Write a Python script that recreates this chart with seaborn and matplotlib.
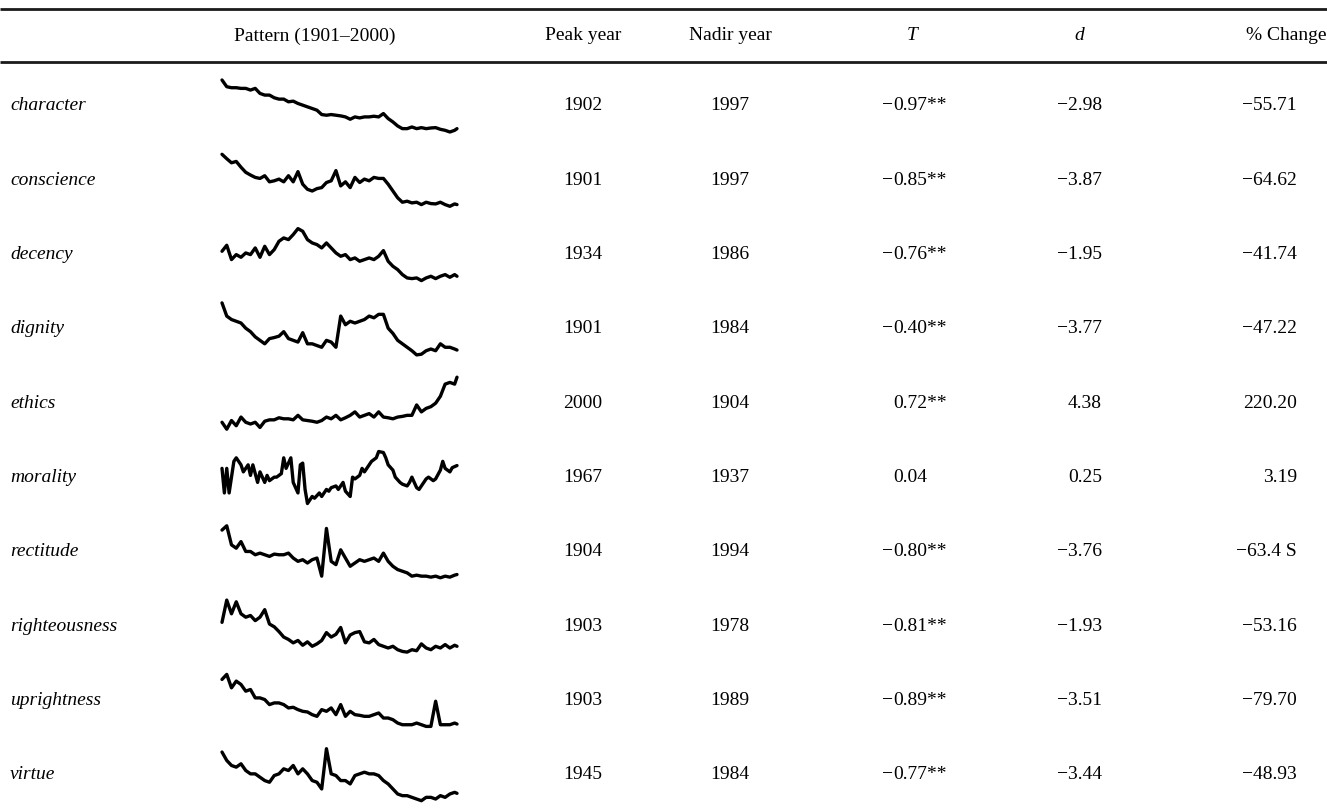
import matplotlib
matplotlib.use("Agg")
import matplotlib.pyplot as plt
import seaborn as sns
import pandas as pd

# ---------------- data ----------------
WORDS = ["character", "conscience", "decency", "dignity", "ethics",
         "morality", "rectitude", "righteousness", "uprightness", "virtue"]
PEAK_YEAR = [1902, 1901, 1934, 1901, 2000, 1967, 1904, 1903, 1903, 1945]
NADIR_YEAR = [1997, 1997, 1986, 1984, 1904, 1937, 1994, 1978, 1989, 1984]
T_VALUES = ["−0.97**", "−0.85**", "−0.76**", "−0.40**", "0.72**",
            "0.04", "−0.80**", "−0.81**", "−0.89**", "−0.77**"]
D_VALUES = ["−2.98", "−3.87", "−1.95", "−3.77", "4.38",
            "0.25", "−3.76", "−1.93", "−3.51", "−3.44"]
PCT_CHANGE = ["−55.71", "−64.62", "−41.74", "−47.22", "220.20",
              "3.19", "−63.4 S", "−53.16", "−79.70", "−48.93"]
HEADERS = ["Pattern (1901–2000)", "Peak year", "Nadir year", "T", "d", "% Change"]

# sparkline sample years (every second year, plus 2000)
YEARS = list(range(1901, 2000, 2)) + [2000]

# relative frequency index read from the sparklines
character = [155, 135, 132, 132, 130, 130, 125, 130, 115, 110,
             110, 102, 98, 98, 90, 92, 85, 80, 75, 70,
             65, 52, 50, 52, 50, 48, 45, 38, 45, 42,
             45, 45, 47, 45, 55, 40, 30, 18, 10, 10,
             15, 10, 13, 10, 12, 13, 8, 5, 0, 5,
             10]
conscience = [153, 140, 128, 132, 115, 100, 92, 85, 82, 90,
              72, 75, 80, 72, 90, 72, 102, 65, 50, 45,
              52, 55, 70, 75, 105, 60, 72, 55, 85, 70,
              80, 75, 85, 82, 82, 65, 45, 25, 12, 15,
              10, 12, 5, 12, 8, 7, 12, 5, 0, 7,
              5]
decency = [90, 108, 65, 80, 72, 85, 80, 100, 72, 105,
           80, 95, 120, 130, 125, 140, 158, 150, 125, 115,
           110, 100, 115, 100, 85, 75, 80, 65, 70, 60,
           65, 70, 65, 75, 92, 60, 45, 35, 20, 10,
           8, 10, 2, 10, 15, 8, 15, 20, 12, 20,
           15]
dignity = [153, 115, 105, 100, 95, 80, 70, 55, 45, 35,
           50, 53, 57, 70, 50, 45, 40, 67, 35, 35,
           30, 25, 45, 40, 25, 115, 90, 100, 95, 100,
           105, 115, 110, 120, 120, 80, 65, 45, 35, 25,
           15, 3, 5, 15, 20, 15, 35, 25, 25, 20,
           17]
ethics = [25, 5, 30, 15, 40, 25, 20, 25, 10, 28,
          32, 32, 38, 35, 35, 32, 45, 32, 30, 28,
          25, 30, 40, 35, 45, 32, 38, 45, 55, 40,
          45, 50, 40, 55, 40, 38, 35, 40, 42, 45,
          45, 75, 55, 65, 70, 80, 100, 135, 140, 135,
          155]
# morality was read at a finer step (its own years)
MORALITY_YEARS = [1901, 1902, 1903, 1904, 1906, 1907, 1909, 1910, 1912, 1913,
                  1914, 1916, 1917, 1919, 1920, 1921, 1923, 1924, 1926, 1927,
                  1928, 1930, 1931, 1933, 1934, 1935, 1936, 1937, 1939, 1940,
                  1942, 1943, 1945, 1946, 1947, 1949, 1950, 1952, 1953, 1955,
                  1956, 1957, 1959, 1960, 1961, 1963, 1964, 1966, 1967, 1969,
                  1970, 1971, 1973, 1974, 1976, 1977, 1979, 1980, 1981, 1983,
                  1984, 1986, 1987, 1988, 1990, 1991, 1993, 1994, 1995, 1997,
                  1998, 2000]
morality = [105, 35, 105, 35, 125, 135, 115, 95, 115, 85,
            115, 65, 95, 65, 85, 70, 80, 80, 90, 135,
            105, 135, 65, 35, 115, 120, 45, 5, 25, 20,
            35, 25, 45, 40, 50, 55, 45, 65, 40, 25,
            80, 75, 85, 105, 95, 115, 125, 135, 153, 150,
            135, 115, 100, 80, 65, 60, 55, 65, 80, 50,
            45, 65, 75, 80, 70, 75, 100, 125, 105, 95,
            107, 113]
rectitude = [145, 158, 100, 90, 110, 80, 80, 70, 75, 70,
             65, 72, 70, 70, 75, 60, 50, 55, 45, 55,
             60, 5, 150, 50, 40, 85, 60, 35, 45, 55,
             50, 55, 60, 50, 75, 50, 35, 25, 20, 15,
             5, 8, 5, 5, 2, 5, 0, 5, 2, 8,
             10]
righteousness = [90, 155, 115, 150, 115, 105, 110, 95, 105, 127,
                 85, 77, 63, 47, 40, 30, 37, 23, 33, 20,
                 27, 37, 60, 47, 55, 75, 30, 53, 60, 63,
                 33, 30, 40, 25, 20, 15, 20, 10, 5, 3,
                 10, 7, 27, 15, 10, 20, 15, 25, 15, 23,
                 20]
uprightness = [140, 155, 115, 135, 125, 105, 110, 85, 85, 80,
               65, 70, 70, 65, 55, 57, 50, 45, 43, 35,
               30, 50, 45, 55, 35, 65, 30, 45, 35, 33,
               30, 30, 35, 40, 25, 25, 20, 10, 5, 5,
               5, 10, 5, 0, 0, 75, 5, 5, 5, 10,
               7]
virtue = [145, 120, 105, 100, 110, 90, 80, 80, 70, 60,
          55, 75, 80, 95, 90, 105, 80, 95, 80, 60,
          55, 35, 155, 80, 75, 60, 60, 50, 75, 80,
          85, 80, 80, 75, 60, 50, 35, 20, 15, 15,
          10, 5, 0, 10, 10, 5, 15, 10, 20, 25,
          22]

SERIES = [character, conscience, decency, dignity, ethics,
          morality, rectitude, righteousness, uprightness, virtue]
SERIES_YEARS = [YEARS, YEARS, YEARS, YEARS, YEARS,
                MORALITY_YEARS, YEARS, YEARS, YEARS, YEARS]

# ---------------- style ----------------
sns.set_theme(style="white")
plt.rcParams["font.family"] = ["Liberation Serif", "DejaVu Serif"]

W, H = 1327, 810
fig = plt.figure(figsize=(W / 100, H / 100), dpi=100)
fig.patch.set_facecolor("white")

bg = fig.add_axes([0, 0, 1, 1])
bg.set_xlim(0, W)
bg.set_ylim(H, 0)
bg.axis("off")

FS = 14
TXT = "black"

# rules
bg.plot([0, W], [9, 9], color="#1a1a1a", lw=2.0, solid_capstyle="butt")
bg.plot([0, W], [62, 62], color="#1a1a1a", lw=2.0, solid_capstyle="butt")

# header
HEAD_Y = 36
bg.text(315, HEAD_Y, HEADERS[0], ha="center", va="center", fontsize=FS, color=TXT)
bg.text(583, HEAD_Y, HEADERS[1], ha="center", va="center", fontsize=FS, color=TXT)
bg.text(730, HEAD_Y, HEADERS[2], ha="center", va="center", fontsize=FS, color=TXT)
bg.text(912, HEAD_Y, HEADERS[3], ha="center", va="center", fontsize=FS, color=TXT, style="italic")
bg.text(1079, HEAD_Y, HEADERS[4], ha="center", va="center", fontsize=FS, color=TXT, style="italic")
bg.text(1326, HEAD_Y, HEADERS[5], ha="right", va="center", fontsize=FS, color=TXT)

ROW0, ROWSTEP = 106, 74.3
SP_X0, SP_X1, SP_H = 222, 457, 52

for i, word in enumerate(WORDS):
    yc = ROW0 + i * ROWSTEP
    bg.text(10, yc, word, ha="left", va="center", fontsize=FS, color=TXT, style="italic")
    bg.text(583, yc, str(PEAK_YEAR[i]), ha="center", va="center", fontsize=FS, color=TXT)
    bg.text(730, yc, str(NADIR_YEAR[i]), ha="center", va="center", fontsize=FS, color=TXT)
    t = T_VALUES[i]
    if t.startswith("−"):
        bg.text(893, yc, "−", ha="right", va="center", fontsize=FS, color=TXT)
        t = t[1:]
    bg.text(893, yc, t, ha="left", va="center", fontsize=FS, color=TXT)
    bg.text(1102, yc, D_VALUES[i], ha="right", va="center", fontsize=FS, color=TXT)
    bg.text(1297, yc, PCT_CHANGE[i], ha="right", va="center", fontsize=FS, color=TXT)

    # sparkline
    ax = fig.add_axes([SP_X0 / W, 1 - (yc + SP_H / 2) / H, (SP_X1 - SP_X0) / W, SP_H / H])
    df = pd.DataFrame({"year": SERIES_YEARS[i], "value": SERIES[i]})
    sns.lineplot(data=df, x="year", y="value", ax=ax, color="black",
                 lw=2.4, estimator=None)
    vmin, vmax = min(SERIES[i]), max(SERIES[i])
    ax.set_xlim(1901, 2000)
    ax.set_ylim(vmin, vmax)
    ax.axis("off")
    for ln in ax.lines:
        ln.set_clip_on(False)

fig.savefig("out.png", dpi=100, facecolor="white")
